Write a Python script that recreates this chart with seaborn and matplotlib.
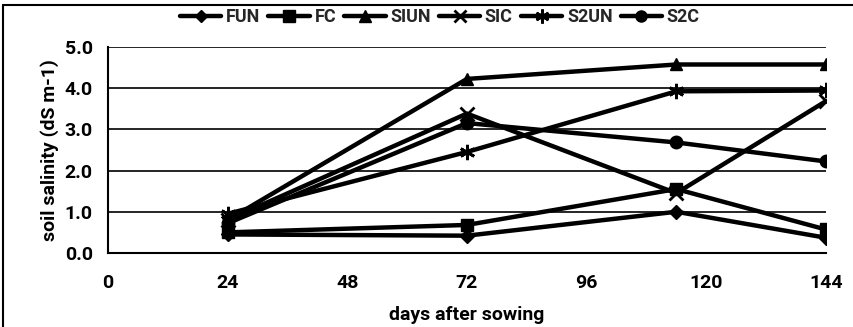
import matplotlib
matplotlib.use("Agg")
import matplotlib.pyplot as plt
from matplotlib.lines import Line2D
from matplotlib import font_manager
import seaborn as sns
import pandas as pd

days = [24, 72, 114, 144]
series_names = ["FUN", "FC", "SIUN", "SIC", "S2UN", "S2C"]
FUN = [0.45, 0.42, 1.00, 0.37]
FC = [0.50, 0.68, 1.55, 0.57]
SIUN = [0.80, 4.22, 4.57, 4.57]
SIC = [0.80, 3.38, 1.45, 3.68]
S2UN = [0.95, 2.45, 3.92, 3.94]
S2C = [0.72, 3.15, 2.68, 2.22]
x_ticks = [0, 24, 48, 72, 96, 120, 144]
y_ticks = [0.0, 1.0, 2.0, 3.0, 4.0, 5.0]

values = {"FUN": FUN, "FC": FC, "SIUN": SIUN, "SIC": SIC, "S2UN": S2UN, "S2C": S2C}
rows = []
for name in series_names:
    for d, v in zip(days, values[name]):
        rows.append({"days": d, "salinity": v, "series": name})
df = pd.DataFrame(rows)

sns.set_theme(style="white")
available = {f.name for f in font_manager.fontManager.ttflist}
fam = "Liberation Sans Narrow" if "Liberation Sans Narrow" in available else "Roboto"
plt.rcParams["font.family"] = [fam, "DejaVu Sans"]
plt.rcParams["font.weight"] = "bold"
FS = 14

markers = {"FUN": "D", "FC": "s", "SIUN": "^", "SIC": "x", "S2UN": (6, 2, 0), "S2C": "o"}
msizes = {"FUN": 7, "FC": 9, "SIUN": 9, "SIC": 10, "S2UN": 11, "S2C": 9}

fig = plt.figure(figsize=(8.54, 3.27), dpi=100)
ax = fig.add_axes([0.1265, 0.2263, 0.967 - 0.1265, 0.857 - 0.2263])

for name in series_names:
    sub = df[df["series"] == name]
    sns.lineplot(data=sub, x="days", y="salinity", ax=ax, color="black",
                 linewidth=3.2, marker=markers[name], markersize=msizes[name],
                 markeredgecolor="black", markerfacecolor="black",
                 markeredgewidth=2 if name in ("SIC", "S2UN") else 1,
                 label=name, legend=False)

ax.set_xlim(0, 144)
ax.set_ylim(0, 5)
ax.set_xticks(x_ticks)
ax.set_yticks(y_ticks)
ax.set_yticklabels([f"{v:.1f}" for v in y_ticks])
ax.yaxis.grid(True, color="black", linewidth=1.2)
ax.set_axisbelow(True)
for s in ["top", "right"]:
    ax.spines[s].set_visible(False)
for s in ["left", "bottom"]:
    ax.spines[s].set_color("black")
    ax.spines[s].set_linewidth(1.5)
ax.tick_params(axis="both", which="major", direction="out", length=5, width=1.5,
               colors="black", labelsize=FS, pad=6)
ax.tick_params(axis="x", pad=10)
ax.set_xlabel("days after sowing", fontsize=FS, fontweight="bold", color="black", labelpad=10)
ax.set_ylabel("soil salinity (dS m-1)", fontsize=FS, fontweight="bold", color="black", labelpad=4)
for lbl in ax.get_xticklabels() + ax.get_yticklabels():
    lbl.set_fontweight("bold")

handles = [Line2D([0], [0], color="black", linewidth=3.2, marker=markers[n],
                  markersize=msizes[n] - 1, markeredgecolor="black", markerfacecolor="black",
                  markeredgewidth=2 if n in ("SIC", "S2UN") else 1) for n in series_names]
fig.legend(handles, series_names, loc="center", bbox_to_anchor=(0.515, 0.948), ncol=6,
           frameon=False, handlelength=2.3, handletextpad=0.25, columnspacing=0.45,
           prop={"weight": "bold", "size": 13})

fig.add_artist(Line2D([3 / 854, 3 / 854], [0, 1 - 5 / 327], transform=fig.transFigure,
                      color="black", linewidth=1.5))
fig.add_artist(Line2D([3 / 854, 1], [1 - 5 / 327, 1 - 5 / 327], transform=fig.transFigure,
                      color="black", linewidth=1.5))

fig.savefig("out.png", dpi=100, facecolor="white")
